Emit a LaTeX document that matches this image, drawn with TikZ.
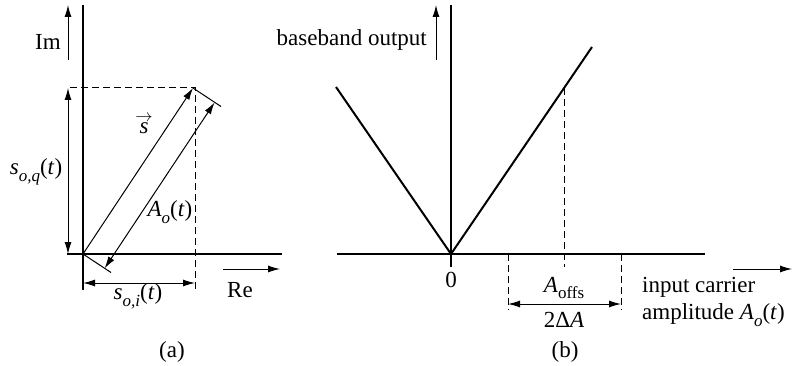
\documentclass[tikz,border=0pt]{standalone}
\usepackage{fontspec}
\setmainfont{Liberation Serif}
\usetikzlibrary{arrows.meta}
\newcommand\lowsub[1]{\raisebox{-0.3em}{\fontsize{17}{17}\selectfont #1}}
\tikzset{
  axis/.style={line width=1.2pt},
  vline/.style={line width=2pt},
  thinline/.style={line width=1pt},
  dsh/.style={line width=1pt, dash pattern=on 7pt off 4pt},
  arr/.style={line width=1pt, -{Latex[length=12pt,width=7pt]}},
  darr/.style={line width=1pt, {Latex[length=12pt,width=7pt]}-{Latex[length=12pt,width=7pt]}},
  lbl/.style={inner sep=1pt, font=\fontsize{23}{27}\selectfont}
}
\begin{document}
\begin{tikzpicture}[x=1pt,y=-1pt]
\useasboundingbox (0,0) rectangle (794,366);
% ---------- panel (a) ----------
\coordinate (O) at (83,254);
\coordinate (S) at (193,88);
\coordinate (Otick) at (111,272.5);
\coordinate (Stick) at (221,106.5);
\coordinate (Abot) at (104.6,268.4);
\coordinate (Atop) at (214.6,102.4);
\coordinate (vaTop) at (83,5);
\coordinate (vaBot) at (83,290);
\coordinate (haL) at (67,254);
\coordinate (haR) at (282,254);
\coordinate (dTopL) at (70,88);
\coordinate (dTopR) at (195,88);
\coordinate (dBot) at (195,290);
\coordinate (imA) at (68,60);
\coordinate (imB) at (68,5);
\coordinate (qA) at (68,88);
\coordinate (qB) at (68,254);
\coordinate (iA) at (83,283);
\coordinate (iB) at (195,283);
\coordinate (reA) at (223,269);
\coordinate (reB) at (280,269);

\draw[axis] (vaTop) -- (vaBot);
\draw[axis] (haL) -- (haR);
\draw[dsh] (dTopL) -- (dTopR) -- (dBot);
\draw[arr] (imA) -- (imB);
\draw[darr] (qA) -- (qB);
\draw[darr] (iA) -- (iB);
\draw[arr] (reA) -- (reB);
\draw[arr] (O) -- (S);
\draw[thinline] (O) -- (Otick);
\draw[thinline] (S) -- (Stick);
\draw[darr] (Abot) -- (Atop);

\node[lbl] (im) at (48,42) {Im};
\node[lbl] (soq) at (36,172) {\textit{s}\lowsub{\textit{o,q}}(\textit{t})};
\node[lbl] (svec) at (144,124) {$\stackrel{\rightarrow}{\textit{s}}$};
\node[lbl] (Ao) at (170,212) {\textit{A}\lowsub{\textit{o}}(\textit{t})};
\node[lbl] (soi) at (138,296) {\textit{s}\lowsub{\textit{o,i}}(\textit{t})};
\node[lbl] (re) at (240,290) {Re};
\node[lbl] (a) at (172,352) {(a)};

% ---------- panel (b) ----------
\coordinate (O2) at (451,254);
\coordinate (vbTop) at (451,5);
\coordinate (vbBot) at (451,267);
\coordinate (hbL) at (337,254);
\coordinate (hbR) at (705,254);
\coordinate (Vl) at (336,87);
\coordinate (Vr) at (592,47);
\coordinate (offTop) at (564,88);
\coordinate (offBot) at (564,267);
\coordinate (lTop) at (508,254);
\coordinate (lBot) at (508,310);
\coordinate (rTop) at (621,254);
\coordinate (rBot) at (621,310);
\coordinate (dA) at (508,304);
\coordinate (dB) at (621,304);
\coordinate (boA) at (436,60);
\coordinate (boB) at (436,5);
\coordinate (icA) at (733,269);
\coordinate (icB) at (792,269);

\draw[axis] (vbTop) -- (vbBot);
\draw[axis] (hbL) -- (hbR);
\draw[vline] (Vl) -- (O2) -- (Vr);
\draw[dsh] (offTop) -- (offBot);
\draw[dsh] (lTop) -- (lBot);
\draw[dsh] (rTop) -- (rBot);
\draw[darr] (dA) -- (dB);
\draw[arr] (boA) -- (boB);
\draw[arr] (icA) -- (icB);

\node[lbl, anchor=east] (bo) at (428,40) {baseband output};
\node[lbl] (zero) at (451,280) {0};
\node[lbl] (aoffs) at (564,288) {\textit{A}\lowsub{offs}};
\node[lbl] (dA2) at (564,320) {2Δ\textit{A}};
\node[lbl, anchor=west, align=left] (ica) at (641,302) {input carrier\\amplitude \textit{A}\lowsub{\textit{o}}(\textit{t})};
\node[lbl] (b) at (565,352) {(b)};
\end{tikzpicture}
\end{document}
